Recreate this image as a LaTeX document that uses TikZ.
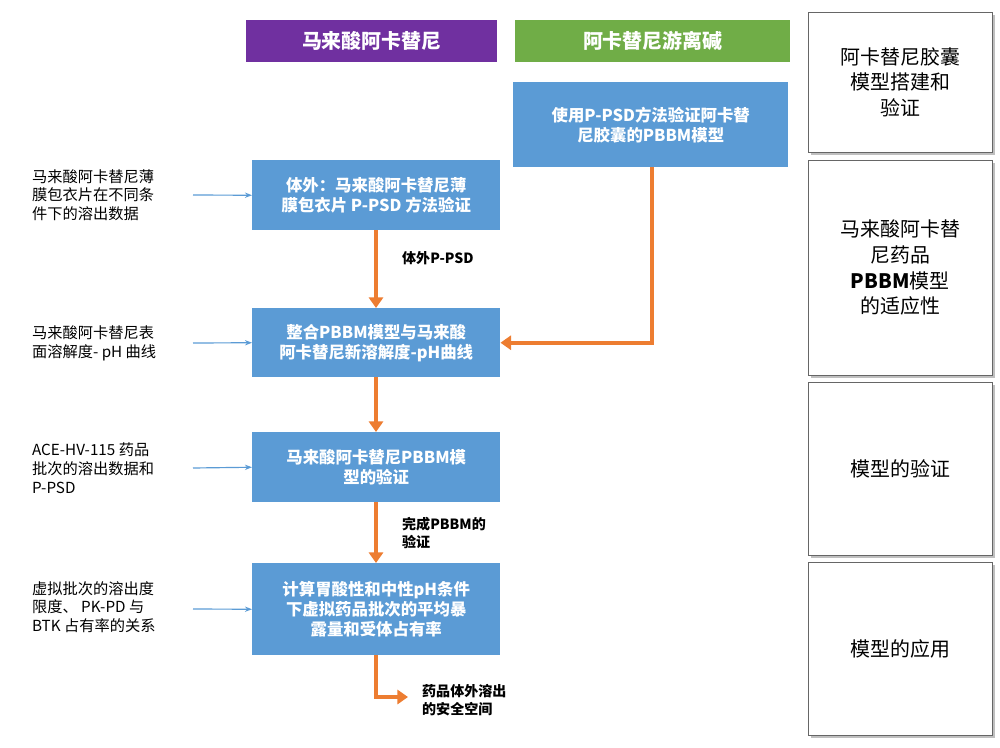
\documentclass[tikz,border=0pt]{standalone}
\usepackage{fontspec}
\setmainfont{Liberation Serif}
\newfontfamily\cjk{Noto Sans CJK SC}
\usetikzlibrary{positioning, arrows.meta}
\definecolor{hdrpurple}{HTML}{7030A0}
\definecolor{hdrgreen}{HTML}{70AD47}
\definecolor{stepblue}{HTML}{5B9BD5}
\definecolor{flowor}{HTML}{ED7D31}
\tikzset{
  procbox/.style={fill=stepblue, text=white, font=\cjk\fontsize{14}{17}\selectfont\bfseries, align=center, inner sep=0pt, anchor=north west},
  hdr/.style={text=white, font=\cjk\fontsize{17}{20}\selectfont\bfseries, inner sep=0pt, anchor=north west},
  stage/.style={draw=black!60, fill=white, font=\cjk\fontsize{17}{22}\selectfont, align=center, inner sep=0pt, anchor=north west},
  src/.style={font=\cjk\fontsize{13}{16}\selectfont, align=left, anchor=west},
  note/.style={font=\cjk\fontsize{12}{15}\selectfont\bfseries, align=left, anchor=west},
  flow/.style={draw=flowor, line width=3.5pt, -{Triangle[length=9pt,width=12pt]}},
  feed/.style={draw=stepblue, line width=1pt, -{Stealth[length=6pt]}}
}
\begin{document}
\begin{tikzpicture}[x=0.03cm, y=-0.03cm]
    \useasboundingbox (0,0) rectangle (1000,747);

    % Column headers
    \node[hdr, fill=hdrpurple, minimum width=251*0.03cm, minimum height=42*0.03cm] (hmal) at (246,20) {马来酸阿卡替尼};
    \node[hdr, fill=hdrgreen, minimum width=275*0.03cm, minimum height=42*0.03cm] (hfree) at (515,20) {阿卡替尼游离碱};

    % Stage boxes on the right
    \fill[black!25] (811,15) rectangle (995,155);
    \node[stage, minimum width=184*0.03cm, minimum height=140*0.03cm] (s1) at (808,12) {阿卡替尼胶囊\\模型搭建和\\验证};
    \fill[black!25] (811,163) rectangle (995,378);
    \node[stage, minimum width=184*0.03cm, minimum height=215*0.03cm] (s2) at (808,160) {马来酸阿卡替\\尼药品\\\textbf{PBBM}模型\\的适应性};
    \fill[black!25] (811,385) rectangle (995,558);
    \node[stage, minimum width=184*0.03cm, minimum height=173*0.03cm] (s3) at (808,382) {模型的验证};
    \fill[black!25] (811,565) rectangle (995,738);
    \node[stage, minimum width=184*0.03cm, minimum height=173*0.03cm] (s4) at (808,562) {模型的应用};

    % Process steps
    \node[procbox, minimum width=275*0.03cm, minimum height=85*0.03cm] (cap) at (513,82) {使用P-PSD方法验证阿卡替\\尼胶囊的PBBM模型};
    \node[procbox, minimum width=248*0.03cm, minimum height=70*0.03cm] (vitro) at (252,160) {体外：马来酸阿卡替尼薄\\膜包衣片 P-PSD 方法验证};
    \node[procbox, minimum width=248*0.03cm, minimum height=69*0.03cm] (merge) at (252,308) {整合PBBM模型与马来酸\\阿卡替尼新溶解度-pH曲线};
    \node[procbox, minimum width=248*0.03cm, minimum height=70*0.03cm] (valid) at (252,432) {马来酸阿卡替尼PBBM模\\型的验证};
    \node[procbox, minimum width=248*0.03cm, minimum height=92*0.03cm] (apply) at (252,563) {计算胃酸性和中性pH条件\\下虚拟药品批次的平均暴\\露量和受体占有率};

    % Inputs on the left
    \node[src] (in1) at (28,195) {马来酸阿卡替尼薄\\膜包衣片在不同条\\件下的溶出数据};
    \node[src] (in2) at (28,343) {马来酸阿卡替尼表\\面溶解度- pH 曲线};
    \node[src] (in3) at (28,468) {ACE-HV-115 药品\\批次的溶出数据和\\P-PSD};
    \node[src] (in4) at (28,607) {虚拟批次的溶出度\\限度、 PK-PD 与\\BTK 占有率的关系};
    \draw[feed] (193,195) -- (vitro.west);
    \draw[feed] (193,343) -- (merge.west);
    \draw[feed] (193,468) -- (valid.west);
    \draw[feed] (193,609) -- (apply.west);

    % Main flow
    \draw[flow] (vitro.south -| 376,0) -- (merge.north -| 376,0);
    \node[note] (lbl1) at (398,258) {体外P-PSD};
    \draw[flow] (merge.south -| 376,0) -- (valid.north -| 376,0);
    \draw[flow] (valid.south -| 376,0) -- (apply.north -| 376,0);
    \node[note] (lbl2) at (398,533) {完成PBBM的\\验证};
    \coordinate (safe) at (408,697);
    \draw[flow] (apply.south -| 376,0) |- (safe);
    \node[note] (lbl3) at (418,700) {药品体外溶出\\的安全空间};
    \draw[flow] (cap.south -| 652,0) |- (merge.east);
\end{tikzpicture}
\end{document}
